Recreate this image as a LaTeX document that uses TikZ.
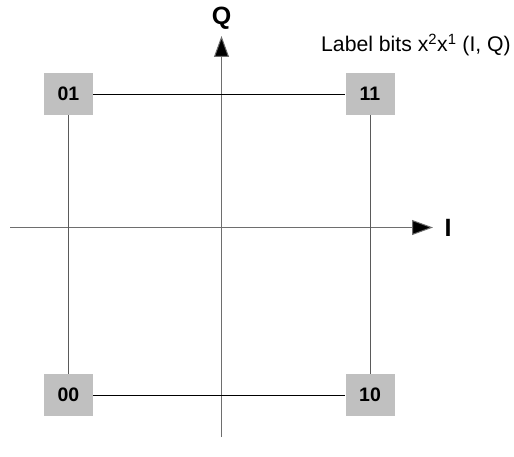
\documentclass[tikz,border=0pt]{standalone}
\usepackage{fontspec}
\setmainfont{Liberation Sans}
\usetikzlibrary{arrows.meta}
\begin{document}
\begin{tikzpicture}[x=1pt,y=-1pt,
  bitbox/.style={fill={rgb,255:red,192;green,192;blue,192}, minimum width=49pt, minimum height=42pt, inner sep=0pt, font=\fontsize{19.5}{22}\selectfont\bfseries},
  axisline/.style={draw={rgb,255:red,110;green,110;blue,110}, line width=1pt, -{Triangle[length=21pt,width=15pt,fill=black]}},
  linkh/.style={draw=black, line width=0.8pt},
  linkv/.style={draw={rgb,255:red,90;green,90;blue,90}, line width=0.9pt},
  axlabel/.style={font=\fontsize{25}{27}\selectfont\bfseries, inner sep=0pt}]
\useasboundingbox (0,0) rectangle (514,457);
% axes
\coordinate (qbot) at (221.5,437);
\coordinate (qtop) at (221.5,36);
\coordinate (ileft) at (10,227.5);
\coordinate (iright) at (433,227.5);
\draw[axisline] (qbot) -- (qtop);
\draw[axisline] (ileft) -- (iright);
\node[axlabel] (qlab) at (221.5,18) {Q};
\node[axlabel] (ilab) at (448,228) {I};
% boxes
\node[bitbox] (b01) at (68.5,94) {01};
\node[bitbox] (b11) at (370,94) {11};
\node[bitbox] (b00) at (68.5,395) {00};
\node[bitbox] (b10) at (370,395) {10};
\draw[linkh] (b01) -- (b11);
\draw[linkh] (b00) -- (b10);
\draw[linkv] (b01) -- (b00);
\draw[linkv] (b11) -- (b10);
\node[anchor=west, inner sep=0pt, font=\fontsize{21.2}{23}\selectfont] (lbl) at (321,45) {Label bits x\textsuperscript{2}x\textsuperscript{1} (I, Q)};
\end{tikzpicture}
\end{document}
